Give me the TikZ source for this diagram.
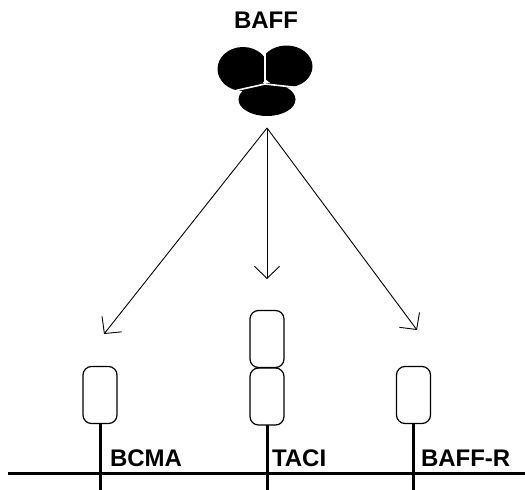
\documentclass[tikz,border=0pt]{standalone}
\usepackage{fontspec}
\setmainfont{Liberation Sans}
\usetikzlibrary{arrows.meta}
\tikzset{
  rbox/.style={draw=black, line width=1.2pt, rounded corners=8.5pt, minimum width=34pt, minimum height=57pt, inner sep=0pt, outer sep=0pt},
  stem/.style={line width=3pt},
  memb/.style={line width=3pt},
  arr/.style={line width=0.9pt, -{Straight Barb[length=12pt, width=25pt, line width=0.9pt]}},
  lab/.style={font=\fontsize{24}{28}\selectfont\bfseries, inner sep=0pt, outer sep=0pt},
  lobe/.style={fill=black},
  divider/.style={draw=white, line width=1.6pt}
}
\begin{document}
\begin{tikzpicture}[x=1pt, y=-1pt]
\useasboundingbox (0,0) rectangle (525,490);
% title
\node[lab, anchor=base] (baff) at (266,28) {BAFF};
% trimer
\fill[lobe] (243,69) ellipse [x radius=25.5, y radius=22];
\fill[lobe] (286.5,66.5) ellipse [x radius=26, y radius=21];
\fill[lobe] (267,99.5) ellipse [x radius=28.5, y radius=16.5];
\draw[divider] (265,44) -- (265,84) -- (236,90.5);
\draw[divider] (265,84) -- (297,87.5);
% arrows
\coordinate (apex) at (267,128);
\coordinate (tipA) at (104,334);
\coordinate (tipB) at (267,279);
\coordinate (tipC) at (417,330);
\draw[arr] (apex) -- (tipA);
\draw[arr] (apex) -- (tipB);
\draw[arr] (apex) -- (tipC);
% receptors
\node[rbox] (bcma) at (100,395) {};
\node[rbox] (taciTop) at (267,339) {};
\node[rbox] (taciBot) at (267,396.5) {};
\node[rbox] (baffr) at (413.5,395) {};
% membrane
\coordinate (mL) at (8,473);
\coordinate (mR) at (525,473);
\coordinate (bottom) at (0,490);
\draw[memb] (mL) -- (mR);
\draw[stem] (bcma.south) -- (bcma.south |- bottom);
\draw[stem] (taciBot.south) -- (taciBot.south |- bottom);
\draw[stem] (baffr.south) -- (baffr.south |- bottom);
% labels
\node[lab, anchor=base west] (lbcma) at (110,466) {BCMA};
\node[lab, anchor=base west] (ltaci) at (272,466) {TACI};
\node[lab, anchor=base west] (lbaffr) at (421,466) {BAFF-R};
\end{tikzpicture}
\end{document}
